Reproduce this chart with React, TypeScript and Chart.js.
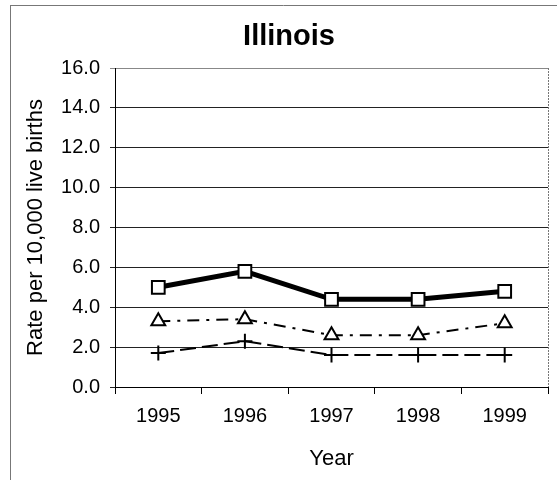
import React, { useEffect, useRef } from "react";
import { Chart, registerables } from "chart.js";

Chart.register(...registerables);

const years = ["1995", "1996", "1997", "1998", "1999"];
const seriesSquare = [5.0, 5.8, 4.4, 4.4, 4.8];
const seriesTriangle = [3.3, 3.4, 2.6, 2.6, 3.2];
const seriesCross = [1.7, 2.3, 1.6, 1.6, 1.6];
const chartTitle = "Illinois";
const xTitle = "Year";
const yTitle = "Rate per 10,000 live births";
const yMin = 0;
const yMax = 16;
const yStep = 2;

const FONT = "'Liberation Sans', Arial, sans-serif";

const decorPlugin = {
  id: "decor",
  beforeDraw(chart: any) {
    const ctx = chart.ctx;
    ctx.save();
    ctx.fillStyle = "#ffffff";
    ctx.fillRect(0, 0, chart.width, chart.height);
    ctx.strokeStyle = "#777777";
    ctx.lineWidth = 1;
    ctx.beginPath();
    ctx.moveTo(10.5, 5);
    ctx.lineTo(10.5, chart.height);
    ctx.moveTo(10, 5.5);
    ctx.lineTo(chart.width, 5.5);
    ctx.stroke();
    ctx.restore();
  },
  afterDraw(chart: any) {
    const ctx = chart.ctx;
    const a = chart.chartArea;
    ctx.save();
    ctx.strokeStyle = "#777777";
    ctx.lineWidth = 1;
    ctx.setLineDash([2, 1]);
    ctx.beginPath();
    ctx.moveTo(Math.round(a.right) + 0.5, a.top);
    ctx.lineTo(Math.round(a.right) + 0.5, a.bottom);
    ctx.stroke();
    ctx.setLineDash([]);
    ctx.fillStyle = "#000";
    ctx.font = `bold 29px ${FONT}`;
    ctx.textAlign = "center";
    ctx.textBaseline = "alphabetic";
    ctx.fillText(chartTitle, 289, 45);
    ctx.restore();
  },
};

export default function App() {
  const ref = useRef<HTMLCanvasElement | null>(null);
  useEffect(() => {
    document.body.style.margin = "0";
    const canvas = ref.current!;
    const chart = new Chart(canvas, {
      type: "line",
      data: {
        labels: years,
        datasets: [
          {
            data: seriesSquare,
            borderColor: "#000",
            borderWidth: 5,
            pointStyle: "rect",
            pointRadius: 9,
            pointBorderWidth: 2,
            pointBackgroundColor: "#fff",
            pointBorderColor: "#000",
            tension: 0,
          },
          {
            data: seriesTriangle,
            borderColor: "#000",
            borderWidth: 2,
            borderDash: [12, 7, 3, 7],
            pointStyle: "triangle",
            pointRadius: 8,
            pointBorderWidth: 2,
            pointBackgroundColor: "#fff",
            pointBorderColor: "#000",
            tension: 0,
          },
          {
            data: seriesCross,
            borderColor: "#000",
            borderWidth: 2,
            borderDash: [16, 6],
            pointStyle: "cross",
            pointRadius: 7.5,
            pointBorderWidth: 2,
            pointBorderColor: "#000",
            tension: 0,
          },
        ],
      },
      options: {
        responsive: false,
        animation: false,
        devicePixelRatio: 1,
        layout: { padding: { top: 68, right: 9, left: 0, bottom: 0 }, autoPadding: false },
        plugins: { legend: { display: false }, title: { display: false }, tooltip: { enabled: false } },
        scales: {
          x: {
            type: "category",
            offset: true,
            grid: {
              display: true,
              offset: true,
              drawOnChartArea: false,
              drawTicks: true,
              tickLength: 7,
              color: "#000",
            },
            border: { display: true, color: "#000", width: 1 },
            ticks: { color: "#000", font: { family: FONT, size: 20 }, padding: 10, maxRotation: 0 },
            title: { display: true, text: xTitle, color: "#000", font: { family: FONT, size: 22 }, padding: { top: 8, bottom: 8 } },
            afterFit: (s: any) => { s.height = 93; },
          },
          y: {
            min: yMin,
            max: yMax,
            grid: {
              color: (c: any) => (c.tick && c.tick.value === yMax ? "#888" : "#222"),
              lineWidth: 1,
              drawTicks: true,
              tickLength: 5,
            },
            border: { display: true, color: "#000", width: 1 },
            ticks: {
              stepSize: yStep,
              color: "#000",
              font: { family: FONT, size: 20 },
              padding: 10,
              callback: (v: any) => Number(v).toFixed(1),
            },
            title: { display: true, text: yTitle, color: "#000", font: { family: FONT, size: 22 }, padding: { top: 23, bottom: 0 } },
            afterFit: (s: any) => { s.width = 115; },
          },
        },
      },
      plugins: [decorPlugin],
    });
    return () => chart.destroy();
  }, []);
  return <canvas ref={ref} width={557} height={480} style={{ display: "block", width: 557, height: 480 }} />;
}
